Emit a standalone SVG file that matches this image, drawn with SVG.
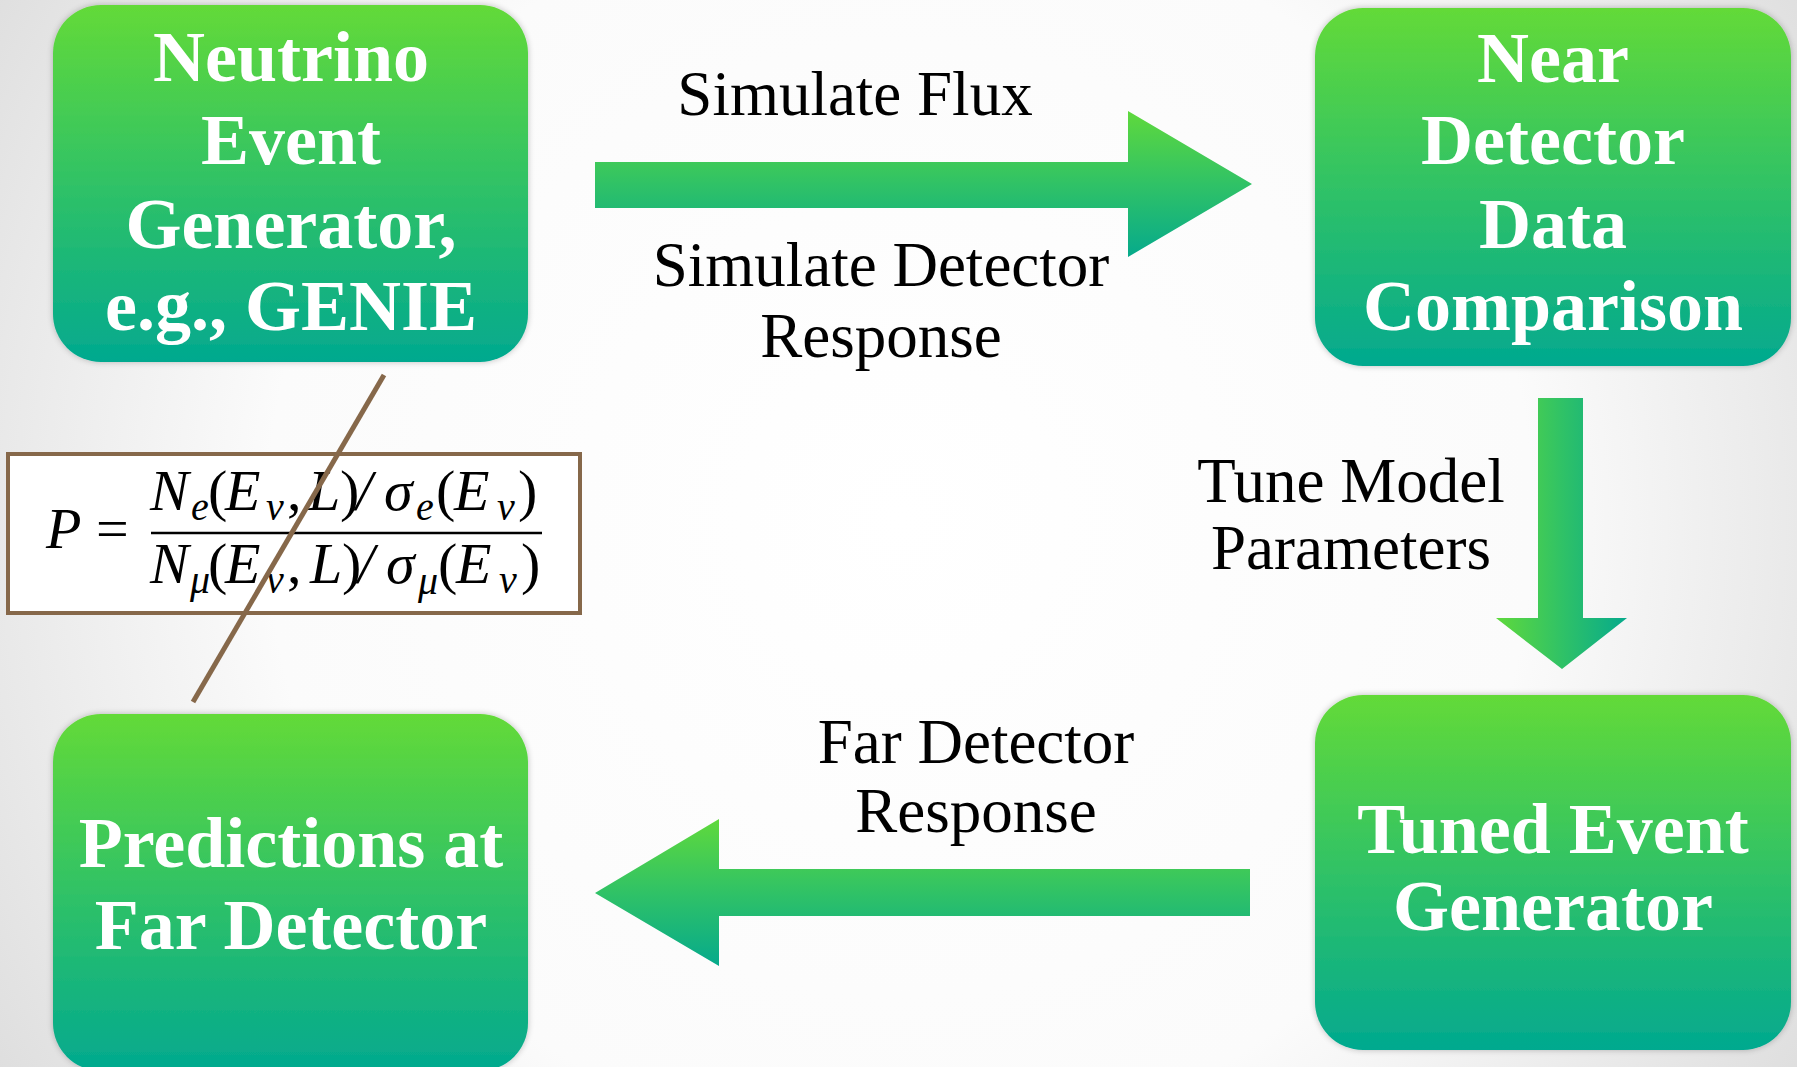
<svg xmlns="http://www.w3.org/2000/svg" width="1797" height="1067" viewBox="0 0 1797 1067">
  <defs>
    <radialGradient id="bg" cx="900" cy="520" r="1150" gradientUnits="userSpaceOnUse">
      <stop offset="0" stop-color="#ffffff"/>
      <stop offset="0.55" stop-color="#fbfbfb"/>
      <stop offset="1" stop-color="#d8d8d8"/>
    </radialGradient>
    <linearGradient id="nodeFill" x1="0" y1="0" x2="0" y2="1">
      <stop offset="0" stop-color="#63da38"/>
      <stop offset="0.5" stop-color="#30c266"/>
      <stop offset="1" stop-color="#02a98f"/>
    </linearGradient>
    <linearGradient id="arrowV" x1="0" y1="0" x2="0" y2="1">
      <stop offset="0" stop-color="#5fd93c"/>
      <stop offset="0.5" stop-color="#30c266"/>
      <stop offset="1" stop-color="#06aa8c"/>
    </linearGradient>
    <linearGradient id="arrowH" x1="0" y1="0" x2="1" y2="0">
      <stop offset="0" stop-color="#5fd93c"/>
      <stop offset="0.5" stop-color="#30c266"/>
      <stop offset="1" stop-color="#06aa8c"/>
    </linearGradient>
    <filter id="soft" x="-5%" y="-5%" width="110%" height="110%">
      <feGaussianBlur in="SourceAlpha" stdDeviation="3"/>
      <feComponentTransfer><feFuncA type="linear" slope="0.25"/></feComponentTransfer>
      <feMerge><feMergeNode/><feMergeNode in="SourceGraphic"/></feMerge>
    </filter>
    <style>
      .box { fill: url(#nodeFill); filter: url(#soft); }
      .nodeText { font-family: "Liberation Serif", "Times New Roman", serif; font-weight: bold; font-size: 72px; fill: #ffffff; text-anchor: middle; }
      .label { font-family: "Liberation Serif", "Times New Roman", serif; font-size: 63px; fill: #000000; text-anchor: middle; }
      .math { font-family: "Liberation Serif", "Times New Roman", serif; font-size: 58px; fill: #000000; }
      .mi { font-style: italic; }
      .sub { font-style: italic; font-size: 40px; }
    </style>
  </defs>

  <!-- background -->
  <rect x="0" y="0" width="1797" height="1067" fill="url(#bg)"/>

  <!-- formula box -->
  <g id="formula">
    <rect x="8" y="454" width="572" height="159" fill="#ffffff" stroke="#86684a" stroke-width="4"/>
    <text class="math" y="548"><tspan class="mi" x="46">P</tspan><tspan x="96">=</tspan></text>
    <!-- numerator -->
    <text class="math" y="510"><tspan class="mi" x="150">N</tspan><tspan class="sub" x="191" y="520">e</tspan><tspan x="208" y="510">(</tspan><tspan class="mi" x="225">E</tspan><tspan class="sub" x="266" y="520">ν</tspan><tspan x="287" y="510">,</tspan><tspan class="mi" x="308">L</tspan><tspan x="340">)</tspan><tspan class="mi" x="356">/</tspan><tspan class="mi" x="384">σ</tspan><tspan class="sub" x="416" y="520">e</tspan><tspan x="436" y="510">(</tspan><tspan class="mi" x="454">E</tspan><tspan class="sub" x="497" y="520">ν</tspan><tspan x="518" y="510">)</tspan></text>
    <!-- fraction bar -->
    <line x1="151" y1="533" x2="542" y2="533" stroke="#000000" stroke-width="2.5"/>
    <!-- denominator -->
    <text class="math" y="583"><tspan class="mi" x="150">N</tspan><tspan class="sub" x="190" y="593">μ</tspan><tspan x="208" y="583">(</tspan><tspan class="mi" x="225">E</tspan><tspan class="sub" x="266" y="593">ν</tspan><tspan x="287" y="583">,</tspan><tspan class="mi" x="310">L</tspan><tspan x="342">)</tspan><tspan class="mi" x="358">/</tspan><tspan class="mi" x="386">σ</tspan><tspan class="sub" x="418" y="594">μ</tspan><tspan x="438" y="583">(</tspan><tspan class="mi" x="456">E</tspan><tspan class="sub" x="499" y="593">ν</tspan><tspan x="521" y="583">)</tspan></text>
  </g>

  <!-- connectors -->
  <g id="connectors">
    <polygon id="arrow-flux" fill="url(#arrowV)" points="595,162 1128,162 1128,111 1252,184 1128,257 1128,208 595,208"/>
    <polygon id="arrow-tune" fill="url(#arrowH)" points="1538,398 1583,398 1583,618 1627,618 1562,669 1496,618 1538,618"/>
    <polygon id="arrow-far" fill="url(#arrowV)" points="1250,869 719,869 719,819 595,893 719,966 719,916 1250,916"/>
    <line id="strike" x1="384" y1="375" x2="193" y2="702" stroke="#86684a" stroke-width="5"/>
  </g>

  <!-- connector labels -->
  <g id="labels">
    <text class="label" x="855" y="115">Simulate Flux</text>
    <text class="label" x="881" y="286">Simulate Detector</text>
    <text class="label" x="881" y="357">Response</text>
    <text class="label" x="1351" y="502">Tune Model</text>
    <text class="label" x="1351" y="569">Parameters</text>
    <text class="label" x="976" y="763">Far Detector</text>
    <text class="label" x="976" y="832">Response</text>
  </g>

  <!-- nodes -->
  <g id="node-generator">
    <rect class="box" x="53" y="5" width="475" height="357" rx="48" ry="48"/>
    <text class="nodeText" x="291" y="81">Neutrino</text>
    <text class="nodeText" x="291" y="164">Event</text>
    <text class="nodeText" x="291" y="248">Generator,</text>
    <text class="nodeText" x="291" y="330">e.g., GENIE</text>
  </g>

  <g id="node-near">
    <rect class="box" x="1315" y="8" width="476" height="358" rx="48" ry="48"/>
    <text class="nodeText" x="1553" y="82">Near</text>
    <text class="nodeText" x="1553" y="164">Detector</text>
    <text class="nodeText" x="1553" y="248">Data</text>
    <text class="nodeText" x="1553" y="330">Comparison</text>
  </g>

  <g id="node-tuned">
    <rect class="box" x="1315" y="695" width="476" height="355" rx="48" ry="48"/>
    <text class="nodeText" x="1553" y="853">Tuned Event</text>
    <text class="nodeText" x="1553" y="930">Generator</text>
  </g>

  <g id="node-predictions">
    <rect class="box" x="53" y="714" width="475" height="357" rx="48" ry="48"/>
    <text class="nodeText" x="291" y="867">Predictions at</text>
    <text class="nodeText" x="291" y="949">Far Detector</text>
  </g>
</svg>
